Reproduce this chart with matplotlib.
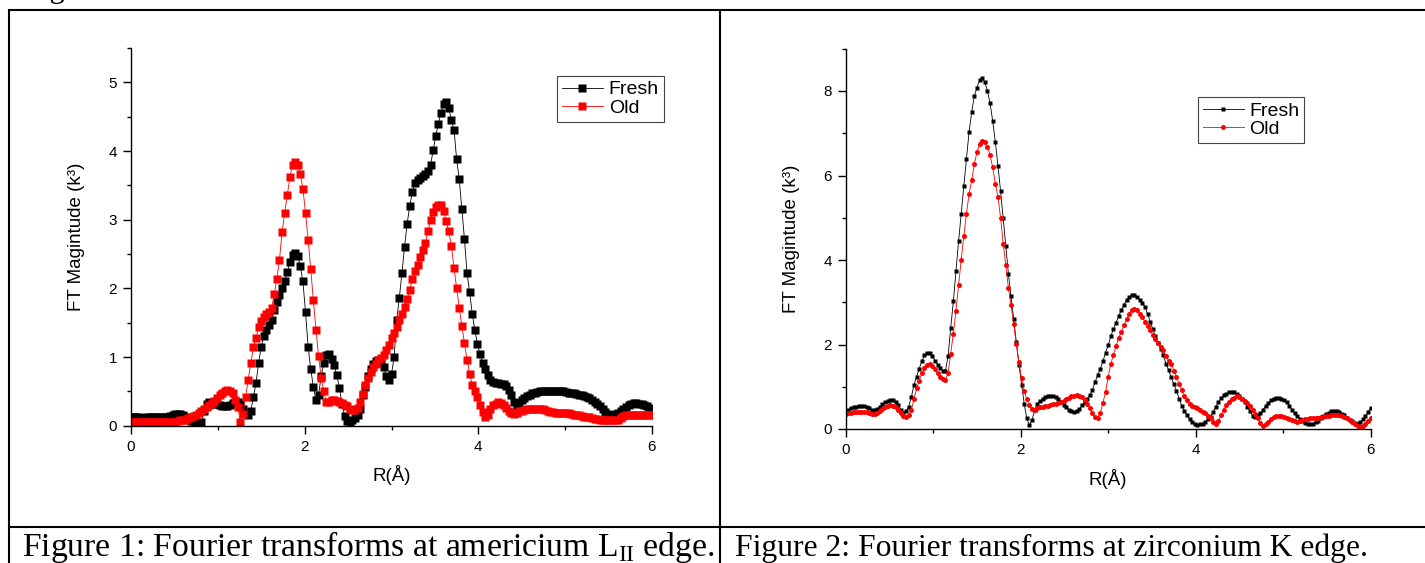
import numpy as np
import matplotlib
matplotlib.use('Agg')
import matplotlib.pyplot as plt
from matplotlib.lines import Line2D
from matplotlib.ticker import MultipleLocator

plt.rcParams['font.family'] = ['Liberation Sans', 'DejaVu Sans']
plt.rcParams['mathtext.fontset'] = 'custom'
plt.rcParams['mathtext.rm'] = 'Liberation Serif'

W, H = 1425, 563

# --- Data: FT magnitudes (R grid step 0.03 A) ---
r = np.round(np.arange(201) * 0.03, 2)

am_fresh = [
    0.12, 0.12, 0.12, 0.12, 0.11, 0.11, 0.12, 0.12, 0.12, 0.13,
    0.13, 0.13, 0.13, 0.13, 0.13, 0.14, 0.16, 0.17, 0.17, 0.17,
    0.15, 0.13, 0.10, 0.07, 0.05, 0.03, 0.03, 0.05, 0.22, 0.32,
    0.34, 0.33, 0.32, 0.31, 0.30, 0.29, 0.28, 0.28, 0.30, 0.33,
    0.35, 0.35, 0.32, 0.25, 0.19, 0.15, 0.22, 0.42, 0.62, 0.92,
    1.15, 1.30, 1.40, 1.47, 1.54, 1.68, 1.80, 1.90, 2.00, 2.10,
    2.24, 2.38, 2.48, 2.52, 2.47, 2.32, 2.10, 1.65, 1.15, 0.82,
    0.57, 0.37, 0.45, 0.72, 0.91, 1.03, 1.05, 0.97, 0.88, 0.74,
    0.55, 0.32, 0.14, 0.07, 0.06, 0.08, 0.11, 0.15, 0.25, 0.44,
    0.57, 0.72, 0.83, 0.90, 0.94, 0.96, 0.93, 0.86, 0.72, 0.67,
    0.75, 1.00, 1.54, 1.86, 2.22, 2.60, 2.94, 3.20, 3.40, 3.53,
    3.58, 3.61, 3.63, 3.66, 3.71, 3.80, 4.01, 4.22, 4.40, 4.56,
    4.68, 4.72, 4.62, 4.45, 4.31, 3.88, 3.59, 3.16, 2.72, 2.22,
    1.94, 1.63, 1.39, 1.19, 1.04, 0.92, 0.82, 0.74, 0.66, 0.63,
    0.62, 0.62, 0.61, 0.60, 0.58, 0.52, 0.44, 0.35, 0.28, 0.33,
    0.38, 0.41, 0.43, 0.45, 0.47, 0.48, 0.49, 0.50, 0.50, 0.51,
    0.51, 0.51, 0.51, 0.51, 0.51, 0.51, 0.50, 0.49, 0.48, 0.47,
    0.47, 0.46, 0.45, 0.44, 0.43, 0.42, 0.40, 0.38, 0.35, 0.31,
    0.28, 0.24, 0.20, 0.17, 0.14, 0.15, 0.17, 0.19, 0.21, 0.24,
    0.27, 0.30, 0.32, 0.33, 0.33, 0.32, 0.31, 0.30, 0.28, 0.26,
    0.25,
]

am_old = [
    0.05, 0.05, 0.05, 0.05, 0.05, 0.05, 0.05, 0.05, 0.05, 0.05,
    0.05, 0.05, 0.05, 0.05, 0.05, 0.05, 0.06, 0.06, 0.07, 0.08,
    0.08, 0.09, 0.11, 0.13, 0.14, 0.16, 0.18, 0.21, 0.24, 0.27,
    0.30, 0.33, 0.36, 0.40, 0.44, 0.47, 0.50, 0.52, 0.51, 0.48,
    0.37, 0.27, 0.06, 0.17, 0.42, 0.67, 0.92, 1.14, 1.28, 1.43,
    1.53, 1.58, 1.62, 1.65, 1.72, 1.92, 2.13, 2.42, 2.82, 3.10,
    3.36, 3.62, 3.80, 3.84, 3.80, 3.66, 3.45, 3.10, 2.71, 2.28,
    1.83, 1.40, 1.02, 0.70, 0.50, 0.35, 0.35, 0.37, 0.37, 0.36,
    0.35, 0.33, 0.30, 0.28, 0.25, 0.23, 0.23, 0.26, 0.34, 0.46,
    0.59, 0.69, 0.78, 0.85, 0.90, 0.95, 0.99, 1.03, 1.10, 1.18,
    1.27, 1.35, 1.44, 1.54, 1.63, 1.73, 1.84, 1.98, 2.13, 2.25,
    2.34, 2.45, 2.56, 2.66, 2.83, 3.00, 3.11, 3.19, 3.22, 3.21,
    3.12, 2.98, 2.83, 2.62, 2.30, 2.00, 1.72, 1.45, 1.20, 0.96,
    0.76, 0.59, 0.50, 0.42, 0.30, 0.20, 0.13, 0.16, 0.24, 0.30,
    0.32, 0.34, 0.33, 0.30, 0.26, 0.22, 0.19, 0.17, 0.19, 0.21,
    0.22, 0.23, 0.24, 0.24, 0.25, 0.25, 0.25, 0.25, 0.24, 0.23,
    0.21, 0.20, 0.20, 0.19, 0.19, 0.19, 0.18, 0.18, 0.18, 0.17,
    0.16, 0.15, 0.15, 0.14, 0.13, 0.13, 0.12, 0.11, 0.10, 0.10,
    0.09, 0.09, 0.08, 0.08, 0.08, 0.08, 0.08, 0.09, 0.11, 0.14,
    0.15, 0.15, 0.16, 0.16, 0.16, 0.16, 0.16, 0.16, 0.16, 0.16,
    0.16,
]

zr_fresh = [
    0.43, 0.46, 0.49, 0.51, 0.53, 0.54, 0.54, 0.54, 0.52, 0.50,
    0.46, 0.45, 0.47, 0.52, 0.58, 0.63, 0.67, 0.69, 0.68, 0.63,
    0.56, 0.46, 0.37, 0.42, 0.53, 0.75, 1.04, 1.24, 1.43, 1.60,
    1.74, 1.81, 1.79, 1.73, 1.62, 1.52, 1.44, 1.37, 1.38, 1.72,
    2.39, 3.02, 3.73, 4.44, 5.10, 5.75, 6.40, 7.03, 7.50, 7.88,
    8.08, 8.26, 8.30, 8.21, 8.00, 7.71, 7.29, 6.80, 6.23, 5.63,
    4.99, 4.33, 3.66, 3.14, 2.60, 2.05, 1.52, 1.05, 0.60, 0.25,
    0.09, 0.22, 0.45, 0.60, 0.66, 0.71, 0.75, 0.77, 0.78, 0.78,
    0.75, 0.70, 0.64, 0.57, 0.51, 0.46, 0.42, 0.41, 0.43, 0.47,
    0.56, 0.64, 0.72, 0.80, 0.92, 1.12, 1.27, 1.43, 1.60, 1.81,
    1.99, 2.19, 2.37, 2.52, 2.67, 2.82, 2.94, 3.05, 3.13, 3.17,
    3.16, 3.13, 3.06, 2.98, 2.89, 2.72, 2.54, 2.36, 2.19, 2.04,
    1.89, 1.74, 1.55, 1.40, 1.22, 1.06, 0.91, 0.72, 0.55, 0.43,
    0.33, 0.23, 0.17, 0.12, 0.10, 0.11, 0.13, 0.17, 0.23, 0.29,
    0.41, 0.53, 0.63, 0.73, 0.80, 0.84, 0.87, 0.88, 0.87, 0.83,
    0.78, 0.72, 0.63, 0.53, 0.42, 0.31, 0.29, 0.32, 0.37, 0.46,
    0.55, 0.62, 0.68, 0.72, 0.74, 0.74, 0.72, 0.68, 0.63, 0.55,
    0.46, 0.38, 0.30, 0.23, 0.18, 0.14, 0.12, 0.12, 0.13, 0.16,
    0.20, 0.25, 0.30, 0.35, 0.39, 0.42, 0.43, 0.43, 0.41, 0.36,
    0.32, 0.27, 0.22, 0.18, 0.15, 0.13, 0.16, 0.23, 0.31, 0.40,
    0.50,
]

zr_old = [
    0.35, 0.37, 0.39, 0.40, 0.41, 0.41, 0.41, 0.41, 0.40, 0.38,
    0.36, 0.35, 0.37, 0.42, 0.47, 0.51, 0.55, 0.56, 0.55, 0.51,
    0.45, 0.37, 0.30, 0.28, 0.33, 0.45, 0.70, 0.96, 1.14, 1.32,
    1.45, 1.51, 1.54, 1.50, 1.43, 1.33, 1.24, 1.19, 1.17, 1.32,
    1.78, 2.25, 2.80, 3.40, 4.00, 4.57, 5.10, 5.56, 5.89, 6.27,
    6.55, 6.75, 6.82, 6.80, 6.68, 6.49, 6.19, 5.81, 5.49, 5.00,
    4.39, 3.87, 3.33, 2.93, 2.48, 2.01, 1.58, 1.20, 0.90, 0.70,
    0.57, 0.47, 0.46, 0.49, 0.52, 0.53, 0.54, 0.55, 0.56, 0.58,
    0.60, 0.62, 0.64, 0.67, 0.70, 0.73, 0.77, 0.79, 0.80, 0.79,
    0.76, 0.68, 0.59, 0.50, 0.37, 0.28, 0.27, 0.38, 0.62, 0.87,
    1.24, 1.54, 1.76, 1.97, 2.16, 2.30, 2.45, 2.60, 2.73, 2.82,
    2.83, 2.81, 2.73, 2.64, 2.54, 2.44, 2.34, 2.23, 2.13, 2.04,
    1.95, 1.86, 1.72, 1.62, 1.55, 1.38, 1.24, 1.07, 0.92, 0.78,
    0.68, 0.60, 0.55, 0.52, 0.49, 0.45, 0.41, 0.37, 0.31, 0.25,
    0.17, 0.12, 0.20, 0.32, 0.46, 0.56, 0.64, 0.70, 0.74, 0.77,
    0.76, 0.72, 0.67, 0.61, 0.55, 0.46, 0.35, 0.25, 0.14, 0.06,
    0.11, 0.17, 0.23, 0.28, 0.30, 0.31, 0.31, 0.29, 0.26, 0.24,
    0.21, 0.19, 0.17, 0.19, 0.21, 0.23, 0.24, 0.25, 0.26, 0.27,
    0.27, 0.28, 0.29, 0.30, 0.31, 0.32, 0.33, 0.33, 0.33, 0.31,
    0.28, 0.25, 0.21, 0.16, 0.12, 0.08, 0.05, 0.07, 0.13, 0.20,
    0.25,
]

x_ticks = [0, 2, 4, 6]
ylabel = 'FT Magintude (k\u00b3)'
xlabel = 'R(\u00c5)'
captions = ['Figure 1: Fourier transforms at americium L$_{\\mathrm{II}}$ edge.',
            'Figure 2: Fourier transforms at zirconium K edge.']


def px_rect(x0, y0, x1, y1):
    """pixel box (top-left origin) -> figure fraction rect"""
    return [x0 / W, 1 - y1 / H, (x1 - x0) / W, (y1 - y0) / H]


fig = plt.figure(figsize=(W / 100, H / 100), dpi=100)


def panel(rect, fresh, old, ymax, ymajor, fresh_ms, old_marker, old_ms, leg_xy):
    ax = fig.add_axes(rect)
    ax.patch.set_alpha(0)
    ax.plot(r, fresh, color='black', lw=0.6, marker='s', ms=fresh_ms,
            mec='none', label='Fresh')
    ax.plot(r, old, color='red', lw=0.6, marker=old_marker, ms=old_ms,
            mec='none', label='Old')
    ax.set_xlim(0, 6)
    ax.set_ylim(0, ymax)
    ax.set_xticks(x_ticks)
    ax.xaxis.set_minor_locator(MultipleLocator(1))
    ax.yaxis.set_major_locator(MultipleLocator(ymajor))
    ax.yaxis.set_minor_locator(MultipleLocator(ymajor / 2))
    for s in ['top', 'right']:
        ax.spines[s].set_visible(False)
    for s in ['left', 'bottom']:
        ax.spines[s].set_linewidth(1.0)
    ax.tick_params(which='major', direction='out', length=6, width=1.0,
                   labelsize=11, pad=4)
    ax.tick_params(which='minor', direction='out', length=3, width=1.0)
    ax.set_xlabel(xlabel, fontsize=13.5)
    ax.set_ylabel(ylabel, fontsize=13.5)
    ax.xaxis.set_label_coords(0.5, -0.105)
    ax.yaxis.set_label_coords(-0.088, 0.5)
    leg = ax.legend(loc='upper left', bbox_to_anchor=leg_xy, fontsize=14,
                    handlelength=2.1, handletextpad=0.3, borderpad=0.25,
                    labelspacing=0.05, fancybox=False, framealpha=1,
                    edgecolor='#444444', borderaxespad=0)
    leg.get_frame().set_linewidth(0.8)
    return ax


panel(px_rect(131, 48, 652, 425.7), am_fresh, am_old, 5.5, 1,
      5.8, 's', 5.8, (0.818, 0.926))
panel(px_rect(845.7, 48.75, 1370.7, 429), zr_fresh, zr_old, 9, 2,
      3.0, 'o', 3.6, (0.671, 0.873))

# --- table borders and captions ---
def hline(y, x0, x1):
    fig.add_artist(Line2D([x0 / W, x1 / W], [1 - y / H, 1 - y / H],
                          color='black', lw=1.5, transform=fig.transFigure))


def vline(x, y0, y1):
    fig.add_artist(Line2D([x / W, x / W], [1 - y0 / H, 1 - y1 / H],
                          color='black', lw=1.5, transform=fig.transFigure))


hline(10, 9, W)
hline(527, 9, W)
vline(9, 10, H)
vline(720, 10, H)

# line of body text above the table, mostly off the top edge
fig.text(24 / W, 1 + 3 / H, 'Figures 1 and 2', fontsize=22,
         family='Liberation Serif', va='baseline')
fig.text(22 / W, 1 - 556 / H, captions[0], fontsize=24.2,
         family='Liberation Serif', va='baseline')
fig.text(735 / W, 1 - 556 / H, captions[1], fontsize=22.8,
         family='Liberation Serif', va='baseline')

fig.savefig('out.png', dpi=100)
